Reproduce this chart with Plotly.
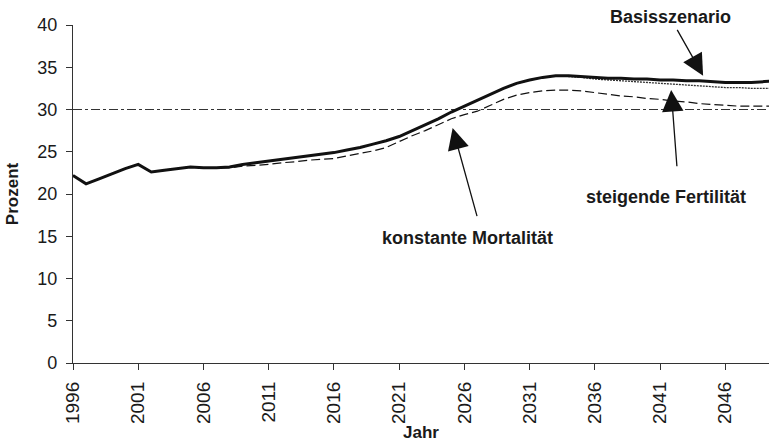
import plotly.graph_objects as go

years = list(range(1996, 2051))

basis = [22.2, 21.2, 21.8, 22.4, 23.0, 23.5, 22.6, 22.8, 23.0, 23.2,
         23.1, 23.1, 23.2, 23.5, 23.7, 23.9, 24.1, 24.3, 24.5, 24.7,
         24.9, 25.2, 25.5, 25.9, 26.3, 26.8, 27.5, 28.2, 28.9, 29.7,
         30.4, 31.1, 31.8, 32.5, 33.1, 33.5, 33.8, 34.0, 34.0, 33.9,
         33.8, 33.7, 33.7, 33.6, 33.6, 33.5, 33.5, 33.4, 33.4, 33.3,
         33.2, 33.2, 33.2, 33.3, 33.4]

fertilitaet = [22.2, 21.2, 21.8, 22.4, 23.0, 23.5, 22.6, 22.8, 23.0, 23.2,
               23.1, 23.1, 23.2, 23.5, 23.7, 23.9, 24.1, 24.3, 24.5, 24.7,
               24.9, 25.2, 25.5, 25.9, 26.3, 26.8, 27.5, 28.2, 28.9, 29.7,
               30.4, 31.1, 31.8, 32.5, 33.1, 33.5, 33.8, 34.0, 33.9, 33.8,
               33.6, 33.5, 33.4, 33.3, 33.2, 33.1, 33.0, 32.9, 32.8, 32.7,
               32.6, 32.6, 32.5, 32.5, 32.5]

mortalitaet = [22.2, 21.2, 21.8, 22.4, 23.0, 23.5, 22.6, 22.8, 23.0, 23.2,
               23.1, 23.1, 23.1, 23.3, 23.4, 23.5, 23.7, 23.8, 24.0, 24.1,
               24.2, 24.5, 24.8, 25.1, 25.5, 26.2, 26.9, 27.5, 28.2, 28.9,
               29.4, 29.8, 30.5, 31.2, 31.7, 32.0, 32.2, 32.3, 32.3, 32.2,
               32.0, 31.8, 31.6, 31.5, 31.3, 31.2, 31.0, 30.9, 30.7, 30.6,
               30.5, 30.4, 30.4, 30.4, 30.4]

reference_level = 30
x_ticks = list(range(1996, 2050, 5))
y_ticks = list(range(0, 45, 5))

# annotation anchors: text, text_x, text_y, text_yref, tail_x, tail_y, tip_x, tip_y
labels = [
    ("Basisszenario", 2041.8, 1.024, "paper", 2042.25, 39.6, 2044.3, 34.0),
    ("steigende Fertilität", 2041.45, 19.6, "y", 2042.3, 23.1, 2041.85, 32.3),
    ("konstante Mortalität", 2026.25, 14.8, "y", 2027.0, 17.2, 2025.1, 27.8),
]

fig = go.Figure()

fig.add_trace(go.Scatter(x=[years[0], years[-1]], y=[reference_level] * 2, mode="lines",
                         line=dict(color="#333333", width=1, dash="dashdot"),
                         hoverinfo="skip", showlegend=False))
fig.add_trace(go.Scatter(x=years, y=mortalitaet, mode="lines",
                         line=dict(color="#111111", width=1.2, dash="9px,4px"),
                         showlegend=False, name="konstante Mortalität"))
fig.add_trace(go.Scatter(x=years, y=fertilitaet, mode="lines",
                         line=dict(color="#333333", width=1.3, dash="2px,1px"),
                         showlegend=False, name="steigende Fertilität"))
fig.add_trace(go.Scatter(x=years, y=basis, mode="lines",
                         line=dict(color="#111111", width=3),
                         showlegend=False, name="Basisszenario"))

font_family = "Liberation Sans, Arial, sans-serif"

for text, tx, ty, tyref, ax_, ay_, px, py in labels:
    fig.add_annotation(x=tx, y=ty, xref="x", yref=tyref, text="<b>%s</b>" % text,
                       xanchor="center", yanchor="middle",
                       showarrow=False, font=dict(family=font_family, size=18, color="#1a1a1a"))
    fig.add_annotation(x=px, y=py, xref="x", yref="y", ax=ax_, ay=ay_, axref="x", ayref="y",
                       text="", showarrow=True, arrowhead=2, arrowsize=3.3, arrowwidth=1.3,
                       arrowcolor="#111111", standoff=0)

fig.update_layout(
    width=769, height=442,
    margin=dict(l=73, r=0, t=25, b=79),
    paper_bgcolor="white", plot_bgcolor="white",
    font=dict(family=font_family, color="#1a1a1a"),
)

fig.update_xaxes(range=[1996, 2049.35], tickvals=x_ticks, ticktext=[str(v) for v in x_ticks],
                 tickangle=-90, tickfont=dict(size=19, color="#1a1a1a"), automargin=False,
                 showgrid=False, zeroline=False, showline=True, linecolor="#333333", linewidth=1.3,
                 ticks="outside", ticklen=6, tickwidth=1.2, tickcolor="#333333", ticklabelstandoff=4,
                 title=dict(text="<b>Jahr</b>", font=dict(size=17), standoff=4))
fig.update_yaxes(range=[0, 40], tickvals=y_ticks, tickfont=dict(size=18, color="#1a1a1a"),
                 automargin=False,
                 showgrid=False, zeroline=False, showline=True, linecolor="#333333", linewidth=1.3,
                 ticks="outside", ticklen=6, tickwidth=1.2, tickcolor="#333333", ticklabelstandoff=5,
                 title=dict(text="<b>Prozent</b>", font=dict(size=17), standoff=14))

fig.write_html("out.html", config={"displayModeBar": False},
               post_script="document.body.style.margin='0';document.body.style.overflow='hidden';")
